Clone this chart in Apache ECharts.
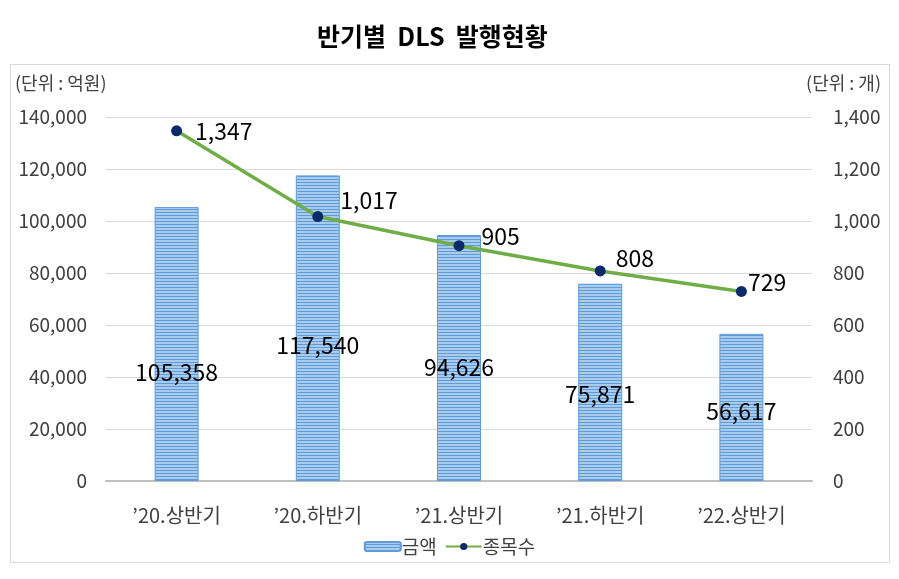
<!DOCTYPE html>
<html>
<head>
<meta charset="utf-8">
<script src="https://cdn.jsdelivr.net/npm/echarts@6/dist/echarts.min.js"></script>
<style>
  html, body { margin: 0; padding: 0; background: #fff; }
  #chart { width: 899px; height: 579px; }
</style>
</head>
<body>
<div id="chart"></div>
<script>
// 데이터
const categories = ['’20.상반기', '’20.하반기', '’21.상반기', '’21.하반기', '’22.상반기'];
const amountValues = [105358, 117540, 94626, 75871, 56617];   // 금액 (억원)
const countValues = [1347, 1017, 905, 808, 729];              // 종목수 (개)
const leftTicks = [0, 140000, 20000];   // min, max, interval
const rightTicks = [0, 1400, 200];

// 라벨 위치 보정 (원본 엑셀 차트의 수동 배치 흉내)
const barLabelOffsets = [[0, 28], [0, 17], [0, 9], [0, 12], [0, 4]];
const lineLabelOffsets = [[8, 0], [12, -16], [12, -9], [5, -13], [-4, -9]];

const FONT = '"Noto Sans CJK KR", "Noto Sans", sans-serif';

// 가로 줄무늬 패턴
function stripePattern() {
  const c = document.createElement('canvas');
  c.width = 4;
  c.height = 3;
  const ctx = c.getContext('2d');
  ctx.fillStyle = '#a9cbec';
  ctx.fillRect(0, 0, 4, 3);
  ctx.fillStyle = '#5f9bd8';
  ctx.fillRect(0, 2, 4, 1);
  return { image: c, repeat: 'repeat' };
}

const chart = echarts.init(document.getElementById('chart'));
const fmt = v => v.toLocaleString('en-US');

chart.setOption({
  backgroundColor: '#fff',
  animation: false,
  textStyle: { fontFamily: FONT },
  title: {
    text: '반기별  DLS  발행현황',
    left: 312,
    top: 19,
    textStyle: { fontSize: 25, fontWeight: 'bold', color: '#000', fontFamily: FONT },
  },
  graphic: [
    { type: 'rect', left: 8, top: 62, shape: { width: 879, height: 498 },
      style: { fill: 'none', stroke: '#d9d9d9', lineWidth: 1 }, silent: true },
    { type: 'text', left: 15, top: 74,
      style: { text: '(단위 : 억원)', fill: '#404040', fontSize: 18, fontFamily: FONT } },
    { type: 'text', right: 18, top: 74,
      style: { text: '(단위 : 개)', fill: '#404040', fontSize: 18, fontFamily: FONT } },
  ],
  legend: {
    bottom: 18,
    left: 'center',
    itemGap: 8,
    itemWidth: 36,
    itemHeight: 9,
    textStyle: { fontSize: 19, color: '#404040', fontFamily: FONT, padding: [0, 0, 0, -4] },
    data: ['금액', '종목수'],
  },
  grid: { left: 106, right: 87, top: 117, bottom: 98 },
  xAxis: {
    type: 'category',
    data: categories,
    axisTick: { show: false },
    axisLine: { lineStyle: { color: '#bfbfbf', width: 2 } },
    axisLabel: { color: '#404040', fontSize: 20, margin: 24, fontFamily: FONT },
  },
  yAxis: [
    {
      type: 'value',
      min: leftTicks[0], max: leftTicks[1], interval: leftTicks[2],
      axisLine: { show: false },
      axisTick: { show: false },
      splitLine: { lineStyle: { color: '#d9d9d9' } },
      axisLabel: { color: '#404040', fontSize: 19, margin: 19, formatter: fmt, fontFamily: FONT },
    },
    {
      type: 'value',
      min: rightTicks[0], max: rightTicks[1], interval: rightTicks[2],
      axisLine: { show: false },
      axisTick: { show: false },
      splitLine: { show: false },
      axisLabel: { color: '#404040', fontSize: 19, margin: 21, formatter: fmt, fontFamily: FONT },
    },
  ],
  series: [
    {
      name: '금액',
      type: 'bar',
      barWidth: 44,
      yAxisIndex: 0,
      itemStyle: { color: stripePattern(), borderColor: '#5f9bd8', borderWidth: 1 },
      data: amountValues.map((v, i) => ({
        value: v,
        label: { offset: barLabelOffsets[i] },
      })),
      label: {
        show: true,
        position: 'inside',
        formatter: p => fmt(p.value),
        color: '#000',
        fontSize: 23,
        fontFamily: FONT,
      },
      z: 2,
    },
    {
      name: '종목수',
      type: 'line',
      yAxisIndex: 1,
      symbol: 'circle',
      symbolSize: 11,
      lineStyle: { color: '#70ad47', width: 3.5 },
      itemStyle: { color: '#0b2a6b' },
      data: countValues.map((v, i) => ({
        value: v,
        label: { offset: lineLabelOffsets[i] },
      })),
      label: {
        show: true,
        position: 'right',
        distance: 5,
        formatter: p => fmt(p.value),
        color: '#000',
        fontSize: 23,
        fontFamily: FONT,
      },
      z: 3,
    },
  ],
});
</script>
</body>
</html>
